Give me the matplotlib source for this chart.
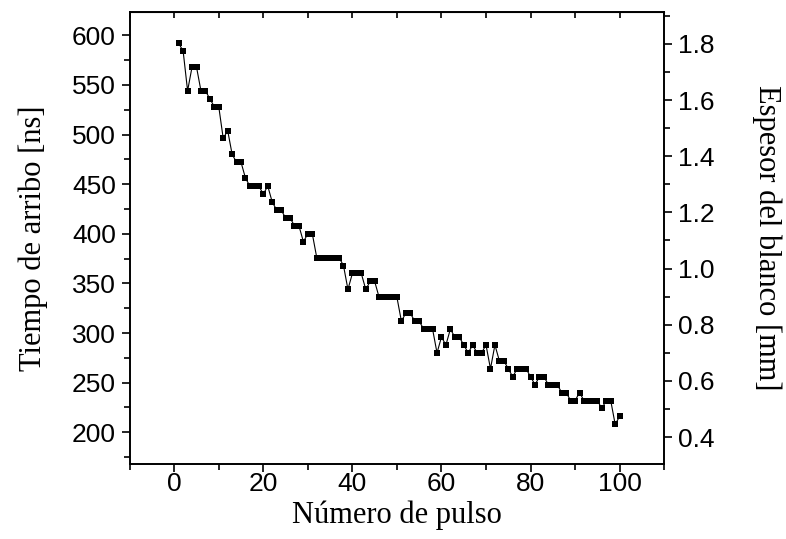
import numpy as np
import matplotlib
matplotlib.use('Agg')
import matplotlib.pyplot as plt
from matplotlib.ticker import MultipleLocator

# data (arrival time per pulse, ns)
pulso = np.arange(1, 101)
tiempo = [592, 584, 544, 568, 568, 544, 544, 536, 528, 528,
          496, 504, 480, 472, 472, 456, 448, 448, 448, 440,
          448, 432, 424, 424, 416, 416, 408, 408, 392, 400,
          400, 376, 376, 376, 376, 376, 376, 368, 344, 360,
          360, 360, 344, 352, 352, 336, 336, 336, 336, 336,
          312, 320, 320, 312, 312, 304, 304, 304, 280, 296,
          288, 304, 296, 296, 288, 280, 288, 280, 280, 288,
          264, 288, 272, 272, 264, 256, 264, 264, 264, 256,
          248, 256, 256, 248, 248, 248, 240, 240, 232, 232,
          240, 232, 232, 232, 232, 224, 232, 232, 208, 216]

x_ticks = [0, 20, 40, 60, 80, 100]
left_ticks = [200, 250, 300, 350, 400, 450, 500, 550, 600]
right_ticks = [0.4, 0.6, 0.8, 1.0, 1.2, 1.4, 1.6, 1.8]

tick_font = {'family': 'Liberation Sans', 'size': 19}
label_font = {'family': 'Liberation Serif', 'size': 22}

fig = plt.figure(figsize=(7.86, 5.39), dpi=100)
ax = fig.add_axes([0.165, 0.139, 0.68, 0.838])
ax.plot(pulso, tiempo, '-', color='black', linewidth=0.8,
        marker='s', markersize=4.2, markerfacecolor='black', markeredgewidth=0)

ax.set_xlim(-10, 110)
ax.set_ylim(168, 623)
ax.set_xticks(x_ticks)
ax.set_yticks(left_ticks)
ax.xaxis.set_minor_locator(MultipleLocator(10))
ax.yaxis.set_minor_locator(MultipleLocator(25))
ax.set_xticklabels([str(v) for v in x_ticks], fontdict=tick_font)
ax.set_yticklabels([str(v) for v in left_ticks], fontdict=tick_font)
ax.tick_params(axis='both', which='major', direction='out', length=6, width=1.2)
ax.tick_params(axis='both', which='minor', direction='out', length=4, width=1.2)
ax.tick_params(axis='x', which='major', pad=0)
ax.tick_params(axis='y', which='major', pad=4)
ax.tick_params(axis='x', which='both', top=False)
for sp in ax.spines.values():
    sp.set_linewidth(1.2)
ax.set_xlabel('Número de pulso', fontdict=label_font, labelpad=3)
ax.set_ylabel('Tiempo de arribo [ns]', fontdict=label_font, labelpad=17)

ax2 = ax.twinx()
ax2.set_ylim(0.304, 1.912)
ax2.set_yticks(right_ticks)
ax2.yaxis.set_minor_locator(MultipleLocator(0.1))
ax2.set_yticklabels(['%.1f' % v for v in right_ticks], fontdict=tick_font)
ax2.tick_params(axis='y', which='major', direction='out', length=6, width=1.2, pad=4)
ax2.tick_params(axis='y', which='minor', direction='out', length=4, width=1.2)
ax2.set_ylabel('Espesor del blanco [mm]', fontdict=label_font, rotation=270, labelpad=48)
for sp in ax2.spines.values():
    sp.set_linewidth(1.2)

# top ticks point inward in the original
secx = ax.secondary_xaxis('top')
secx.set_xticks(np.arange(-10, 111, 10))
secx.tick_params(direction='in', length=4, width=1.2, labeltop=False)

fig.savefig('out.png', dpi=100)
